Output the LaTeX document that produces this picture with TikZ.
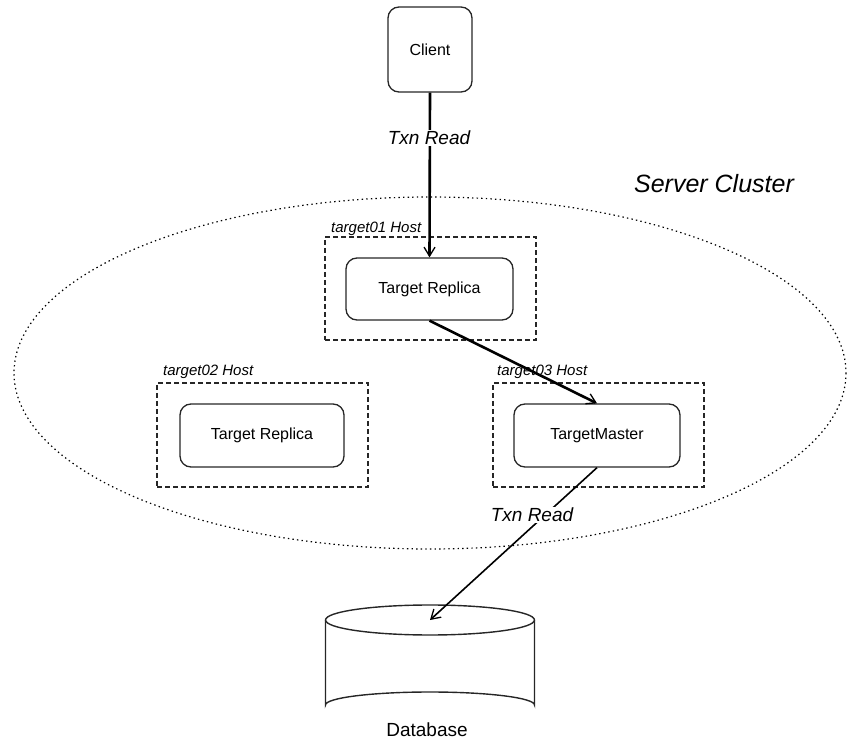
\documentclass[tikz,border=0pt]{standalone}
\usepackage{fontspec}
\setmainfont{Liberation Sans}
\usetikzlibrary{arrows.meta}
\begin{document}
\begin{tikzpicture}[x=1pt,y=-1pt,
  procbox/.style={draw=black!85,line width=1.3pt,rounded corners=11pt,inner sep=0pt,
    font=\fontsize{16}{19}\selectfont},
  hostbox/.style={draw=black!85,line width=2pt,dash pattern=on 5pt off 3pt,inner sep=0pt},
  hostlabel/.style={anchor=west,inner sep=0pt,font=\fontsize{15}{18}\selectfont\itshape},
  flowlabel/.style={fill=white,inner sep=1pt,font=\fontsize{19}{22}\selectfont\itshape},
  tip/.style={-{Straight Barb[length=9pt,width=11pt,line width=1.3pt]}},
  thickflow/.style={tip,line width=2.6pt},
  thinflow/.style={tip,line width=1.6pt},
  dbline/.style={draw=black!85,line width=1.4pt}
]
\useasboundingbox (0,0) rectangle (847,743);

% server cluster ellipse
\draw[black,line width=1.2pt,dash pattern=on 1.4pt off 3.2pt] (430,373) ellipse [x radius=416, y radius=176];
\node[inner sep=0pt,font=\fontsize{25}{28}\selectfont\itshape] (cluster) at (714,184) {Server Cluster};

% client
\node[procbox,minimum width=84pt,minimum height=85pt] (client) at (430,49.5) {Client};

% hosts
\node[hostbox,minimum width=211pt,minimum height=103pt] (host1) at (430.5,288.5) {};
\node[hostlabel] (host1lbl) at (331,229) {target01 Host};
\node[procbox,minimum width=167pt,minimum height=62pt] (rep1) at (429.5,289) {Target Replica};

\node[hostbox,minimum width=211pt,minimum height=104pt] (host2) at (262.5,435) {};
\node[hostlabel] (host2lbl) at (163,372) {target02 Host};
\node[procbox,minimum width=164pt,minimum height=63pt] (rep2) at (262,435.5) {Target Replica};

\node[hostbox,minimum width=211pt,minimum height=104pt] (host3) at (598.5,435) {};
\node[hostlabel] (host3lbl) at (497,372) {target03 Host};
\node[procbox,minimum width=166pt,minimum height=63pt] (master) at (597,435.5) {TargetMaster};

% database cylinder
\coordinate (dbtop) at (430,620);
\draw[dbline] (dbtop) ellipse [x radius=104.5, y radius=15];
\draw[dbline] (325.5,620) -- (325.5,705) arc[start angle=180,end angle=360,x radius=104.5,y radius=13] -- (534.5,620);
\node[inner sep=0pt,font=\fontsize{19}{22}\selectfont] (dblbl) at (427,730) {Database};

% connectors
\draw[thickflow] (client.south) -- (rep1.north);
\node[flowlabel] (lbl1) at (429,138) {Txn Read};
\draw[thickflow] (rep1.south) -- (master.north);
\draw[thinflow] (master.south) -- (dbtop);
\node[flowlabel] (lbl2) at (532,515) {Txn Read};
\end{tikzpicture}
\end{document}
